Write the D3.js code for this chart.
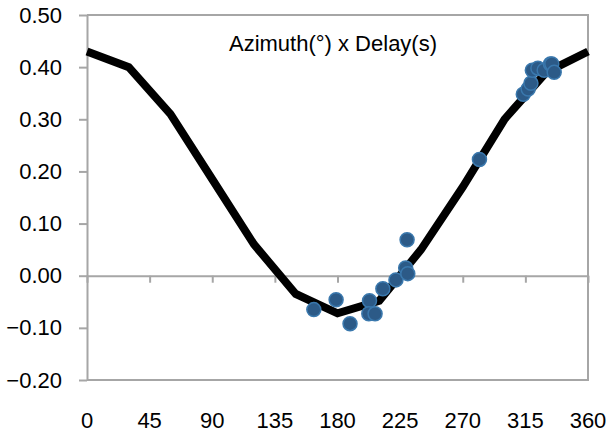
<!DOCTYPE html>
<html>
<head>
<meta charset="utf-8">
<script src="https://cdn.jsdelivr.net/npm/d3@7"></script>
<style>
	body { margin: 0; background: #fff; }
	text { font-family: "Liberation Sans", Arial, sans-serif; fill: #000; }
</style>
</head>
<body>
<script>
// fitted curve (azimuth in degrees, delay in seconds)
const curveAz = [0, 30, 60, 90, 120, 150, 180, 210, 240, 270, 300, 330, 360];
const curveDelay = [0.43, 0.40, 0.31, 0.185, 0.06, -0.035, -0.072, -0.048, 0.05, 0.17, 0.30, 0.39, 0.43];

// measured points
const pointAz = [163, 179, 189, 203, 202.5, 207, 212.6, 222, 229, 230.5, 230, 282, 313.5, 317, 319, 320, 324, 328.5, 333, 334, 335.7];
const pointDelay = [-0.065, -0.046, -0.092, -0.048, -0.073, -0.073, -0.025, -0.008, 0.015, 0.004, 0.069, 0.223, 0.348, 0.358, 0.369, 0.394, 0.398, 0.394, 0.406, 0.406, 0.390];

const xTicks = [0, 45, 90, 135, 180, 225, 270, 315, 360];
const yTicks = [-0.2, -0.1, 0, 0.1, 0.2, 0.3, 0.4, 0.5];
const title = "Azimuth(°) x Delay(s)";

const width = 608, height = 435;
const margin = {top: 15, right: 20, bottom: 55, left: 87};
const innerW = width - margin.left - margin.right;
const innerH = height - margin.top - margin.bottom;

let scale = {
	x: d3.scaleLinear().domain([0, 360]).range([0, innerW]),
	y: d3.scaleLinear().domain([-0.2, 0.5]).range([innerH, 0]),
};

let svg = d3.select("body").append("svg")
	.attr("width", width)
	.attr("height", height);

let g = svg.append("g")
	.attr("transform", `translate(${margin.left}, ${margin.top})`);

const gray = "#a6a6a6";

// frame: top, right, bottom
g.append("path")
	.attr("d", `M0,0H${innerW}V${innerH}H0`)
	.attr("fill", "none")
	.attr("stroke", gray)
	.attr("stroke-width", 2);

// y axis
let yAxis = g.append("g")
	.call(d3.axisLeft(scale.y).tickValues(yTicks).tickFormat(d3.format(".2f")).tickSize(8).tickSizeOuter(0));
yAxis.select(".domain").attr("stroke", gray).attr("stroke-width", 2);
yAxis.selectAll(".tick line").attr("stroke", gray).attr("stroke-width", 2);
yAxis.selectAll(".tick text")
	.attr("x", -25)
	.style("font-size", "22px")
	.style("font-family", "'Liberation Sans', Arial, sans-serif");

// x axis along zero line, labels at the bottom
let xAxis = g.append("g")
	.attr("transform", `translate(0, ${scale.y(0)})`)
	.call(d3.axisBottom(scale.x).tickValues(xTicks).tickSize(7).tickSizeOuter(0).tickFormat(""));
xAxis.select(".domain").attr("stroke", gray).attr("stroke-width", 2);
xAxis.selectAll(".tick line").attr("stroke", gray).attr("stroke-width", 2);

g.append("g")
	.selectAll("text")
	.data(xTicks)
	.join("text")
		.attr("x", d => scale.x(d))
		.attr("y", innerH + 48)
		.attr("text-anchor", "middle")
		.style("font-size", "22px")
		.text(d => d);

// curve
let line = d3.line()
	.x((d, i) => scale.x(curveAz[i]))
	.y(d => scale.y(d));

g.append("path")
	.datum(curveDelay)
	.attr("d", line)
	.attr("fill", "none")
	.attr("stroke", "#000")
	.attr("stroke-width", 8)
	.attr("stroke-linejoin", "miter");

// points
g.append("g")
	.selectAll("circle")
	.data(pointDelay)
	.join("circle")
		.attr("cx", (d, i) => scale.x(pointAz[i]))
		.attr("cy", d => scale.y(d))
		.attr("r", 7)
		.attr("fill", "#2c5a87")
		.attr("stroke", "#3a78ad")
		.attr("stroke-width", 1.5);

// title
svg.append("text")
	.attr("x", 333)
	.attr("y", 51)
	.attr("text-anchor", "middle")
	.style("font-size", "22px")
	.text(title);
</script>
</body>
</html>
